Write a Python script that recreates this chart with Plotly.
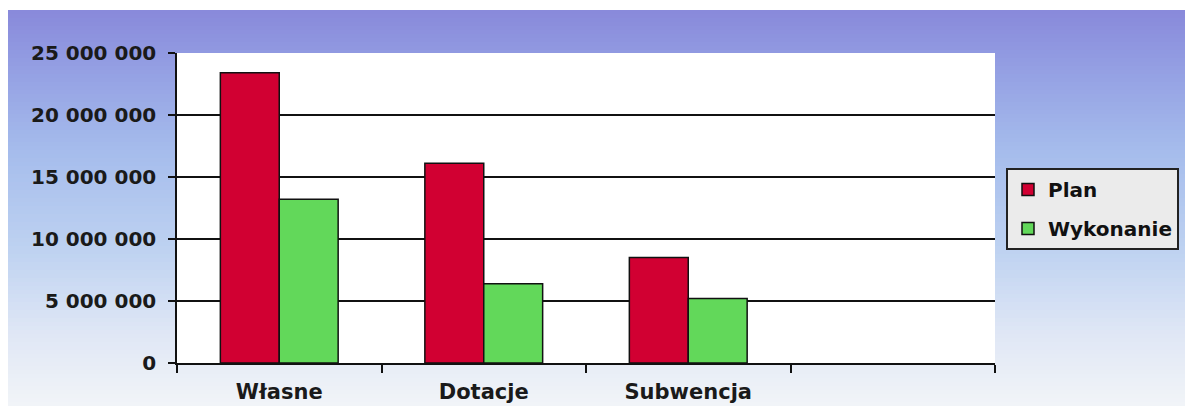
import plotly.graph_objects as go

categories = ["Własne", "Dotacje", "Subwencja", " "]
plan = [23_400_000, 16_100_000, 8_500_000]
wykonanie = [13_200_000, 6_400_000, 5_200_000]
y_ticks = [0, 5_000_000, 10_000_000, 15_000_000, 20_000_000, 25_000_000]
y_tick_labels = ["0", "5 000 000", "10 000 000", "15 000 000", "20 000 000", "25 000 000"]
grid_vals = [5_000_000, 10_000_000, 15_000_000, 20_000_000]

# page body has an 8px margin on every side; figure sized so the page is 1193x414
OFF = 8
W, H = 1193 - 2 * OFF, 414 - 2 * OFF
PLOT_L, PLOT_R, PLOT_T, PLOT_B = 177, 995, 53, 363  # page pixels
ML, MT = PLOT_L - OFF, PLOT_T - OFF
MR, MB = W - (PLOT_R - OFF), H - (PLOT_B - OFF)
PW, PH = W - ML - MR, H - MT - MB

FONT = "DejaVu Sans"

fig = go.Figure()
fig.add_trace(go.Bar(name="<b>Plan</b>", x=categories[:3], y=plan,
                     marker=dict(color="#d10032", line=dict(color="#111", width=1.5)),
                     legendgroup="a"))
fig.add_trace(go.Bar(name="<b>Wykonanie</b>", x=categories[:3], y=wykonanie,
                     marker=dict(color="#62d85a", line=dict(color="#111", width=1.5)),
                     legendgroup="b"))
# invisible trace hosting the grid axis
fig.add_trace(go.Scatter(x=categories[:1], y=[0], yaxis="y2", mode="markers",
                         marker=dict(opacity=0), showlegend=False, hoverinfo="skip"))

# background gradient strips, in page pixel rows
stops = [(8, (136, 136, 218)), (60, (146, 156, 226)), (150, (165, 188, 236)),
         (250, (190, 210, 241)), (330, (222, 230, 245)), (414, (244, 246, 248))]

def color_at(py):
    for (y0, c0), (y1, c1) in zip(stops[:-1], stops[1:]):
        if y0 <= py <= y1:
            t = (py - y0) / (y1 - y0)
            return "rgb(%d,%d,%d)" % tuple(round(a + (b - a) * t) for a, b in zip(c0, c1))
    return "rgb(%d,%d,%d)" % stops[-1][1]

def page_y_to_paper(py):
    return (PLOT_B - py) / PH

def page_x_to_paper(px):
    return (px - PLOT_L) / PW

shapes = []
step = 4
py = 10
while py < 414:
    shapes.append(dict(type="rect", xref="paper", yref="paper",
                       x0=page_x_to_paper(0), x1=page_x_to_paper(1200),
                       y0=page_y_to_paper(min(py + step + 1, 420)), y1=page_y_to_paper(py),
                       fillcolor=color_at(py + step / 2), line=dict(width=0), layer="below"))
    py += step
# white plot area
shapes.append(dict(type="rect", xref="paper", yref="paper", x0=0, x1=1, y0=0, y1=1,
                   fillcolor="white", line=dict(width=0), layer="below"))

fig.update_layout(
    width=W, height=H,
    margin=dict(l=ML, r=MR, t=MT, b=MB, autoexpand=False),
    paper_bgcolor="white",
    plot_bgcolor="rgba(0,0,0,0)",
    shapes=shapes,
    barmode="group",
    bargap=0.424,
    bargroupgap=0,
    font=dict(family=FONT, color="#1a1a1a"),
    xaxis=dict(type="category", categoryorder="array", categoryarray=categories,
               tickvals=categories, ticktext=["<b>%s</b>" % c for c in categories],
               range=[-0.5, 3.5], tickson="boundaries", ticks="outside", ticklen=8,
               tickwidth=1.5, tickcolor="#111", showline=True, linecolor="#111", linewidth=1.5,
               showgrid=False, tickfont=dict(size=21, family=FONT, color="#1a1a1a"),
               ticklabelstandoff=9),
    yaxis=dict(range=[0, 25_000_000], tickvals=y_ticks,
               ticktext=["<b>%s</b>" % t for t in y_tick_labels],
               ticks="outside", ticklen=7, tickwidth=1.5, tickcolor="#111",
               showline=True, linecolor="#111", linewidth=1.5, showgrid=False, zeroline=False,
               tickfont=dict(size=20, family=FONT, color="#1a1a1a"), ticklabelstandoff=8),
    yaxis2=dict(overlaying="y", matches="y", range=[0, 25_000_000], tickvals=grid_vals,
                showticklabels=False, ticks="", showgrid=True, gridcolor="#111", gridwidth=1.5,
                showline=False, zeroline=False),
    legend=dict(x=page_x_to_paper(1006), xanchor="left", y=page_y_to_paper(168), yanchor="top",
                bgcolor="#ebebeb", bordercolor="#222", borderwidth=2,
                font=dict(size=20, family=FONT, color="#111"),
                traceorder="grouped", tracegroupgap=10, itemwidth=30),
    showlegend=True,
)

fig.write_html("out.html")
